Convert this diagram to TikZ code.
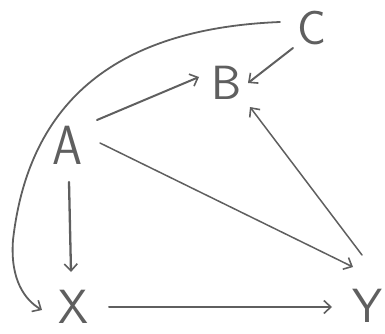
\documentclass[tikz,border=0pt]{standalone}
\usetikzlibrary{arrows.meta,calc}
\definecolor{pencil}{RGB}{95,95,95}
\begin{document}
\begin{tikzpicture}[x=1pt,y=1pt,
  var/.style={text=pencil,font=\sffamily\fontsize{48}{48}\selectfont,inner sep=0pt},
  edge/.style={draw=pencil,line width=2pt,line cap=round,-{Straight Barb[length=7pt,width=13pt,line width=1.6pt]}}]
\useasboundingbox (0,0) rectangle (385,333);
\clip (0,0) rectangle (385,333);
\node[var] (C) at (312,305) {C};
\node[var] (B) at (227,250) {B};
\node[var,yscale=1.15] (A) at (67,188) {A};
\node[var] (X) at (73,26) {X};
\node[var] (Y) at (367,27) {Y};
\draw[edge] ($(C)+(-19,-20)$) -- ($(B)+(21,0)$);
\draw[edge] ($(A)+(30,25)$) -- ($(B)+(-28,6)$);
\draw[edge,line width=1.5pt] ($(A)+(33,2)$) -- ($(Y)+(-14,39)$);
\draw[edge,line width=1.5pt] ($(Y)+(-5,51)$) -- ($(B)+(23,-24)$);
\draw[edge,line width=2.3pt] ($(A)+(2,-37)$) -- ($(X)+(-2,35)$);
\draw[edge] ($(X)+(36,0)$) -- ($(Y)+(-35,-1)$);
\draw[edge,line width=1.8pt] ($(C)+(-32,6)$) .. controls (130,305) and (30,243) .. (13,93)
  .. controls (10,53) and (25,33) .. ($(X)+(-31,-3)$);
\end{tikzpicture}
\end{document}
